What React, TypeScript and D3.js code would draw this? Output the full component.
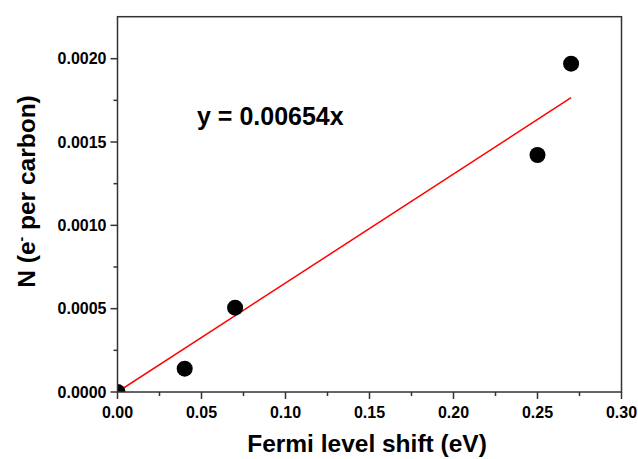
import React from "react";
import * as d3 from "d3";

const xs = [0, 0.04, 0.07, 0.25, 0.27];
const ys = [0, 0.00014, 0.000506, 0.001422, 0.00197];
const slope = 0.00654;
const fitRange = [0, 0.27];
const xTicks = [0, 0.05, 0.1, 0.15, 0.2, 0.25, 0.3];
const yTicks = [0, 0.0005, 0.001, 0.0015, 0.002];
const xMinor = [0.025, 0.075, 0.125, 0.175, 0.225, 0.275];
const yMinor = [0.00025, 0.00075, 0.00125, 0.00175];

export default function App() {
  const W = 638, H = 459;
  const L = 117.5, R = 621.5, T = 16.7, B = 392;
  const x = d3.scaleLinear().domain([0, 0.3]).range([L, R]);
  const y = d3.scaleLinear().domain([0, 0.002252]).range([B, T]);
  const font = "'Liberation Sans', Arial, sans-serif";
  const axisColor = "#333";
  const line = d3.line<number>().x(d => x(d)).y(d => y(slope * d));
  return (
    <svg width={W} height={H} style={{ position: "absolute", left: 0, top: 0 }}>
      <defs>
        <clipPath id="plotClip">
          <rect x={L} y={T} width={R - L} height={B - T} />
        </clipPath>
      </defs>
      <rect width={W} height={H} fill="#fff" />
      <g clipPath="url(#plotClip)">
        <path d={line(fitRange) || ""} fill="none" stroke="#ff0000" strokeWidth={1.5} />
        {xs.map((v, i) => (
          <circle key={i} cx={x(v)} cy={y(ys[i])} r={8} fill="#000" />
        ))}
      </g>
      <rect x={L} y={T} width={R - L} height={B - T} fill="none" stroke={axisColor} strokeWidth={1.5} />
      {xTicks.map(t => (
        <g key={"x" + t}>
          <line x1={x(t)} x2={x(t)} y1={B} y2={B + 7} stroke={axisColor} strokeWidth={1.5} />
          <text x={x(t)} y={B + 26} textAnchor="middle" fontFamily={font} fontWeight="bold" fontSize={16}>{t.toFixed(2)}</text>
        </g>
      ))}
      {xMinor.map(t => (
        <line key={"xm" + t} x1={x(t)} x2={x(t)} y1={B} y2={B + 4} stroke={axisColor} strokeWidth={1.5} />
      ))}
      {yTicks.map(t => (
        <g key={"y" + t}>
          <line x1={L - 7} x2={L} y1={y(t)} y2={y(t)} stroke={axisColor} strokeWidth={1.5} />
          <text x={L - 11} y={y(t)} dy="0.36em" textAnchor="end" fontFamily={font} fontWeight="bold" fontSize={16}>{t.toFixed(4)}</text>
        </g>
      ))}
      {yMinor.map(t => (
        <line key={"ym" + t} x1={L - 4} x2={L} y1={y(t)} y2={y(t)} stroke={axisColor} strokeWidth={1.5} />
      ))}
      <text x={197} y={125} fontFamily={font} fontWeight="bold" fontSize={25}>y = 0.00654x</text>
      <text x={367} y={451.5} textAnchor="middle" fontFamily={font} fontWeight="bold" fontSize={24.5}>Fermi level shift (eV)</text>
      <text transform={`translate(35, 191.5) rotate(-90)`} textAnchor="middle" fontFamily={font} fontWeight="bold" fontSize={24.5}>
        N (e<tspan dy="-9" fontSize={14}>-</tspan><tspan dy="9"> per carbon)</tspan>
      </text>
    </svg>
  );
}
